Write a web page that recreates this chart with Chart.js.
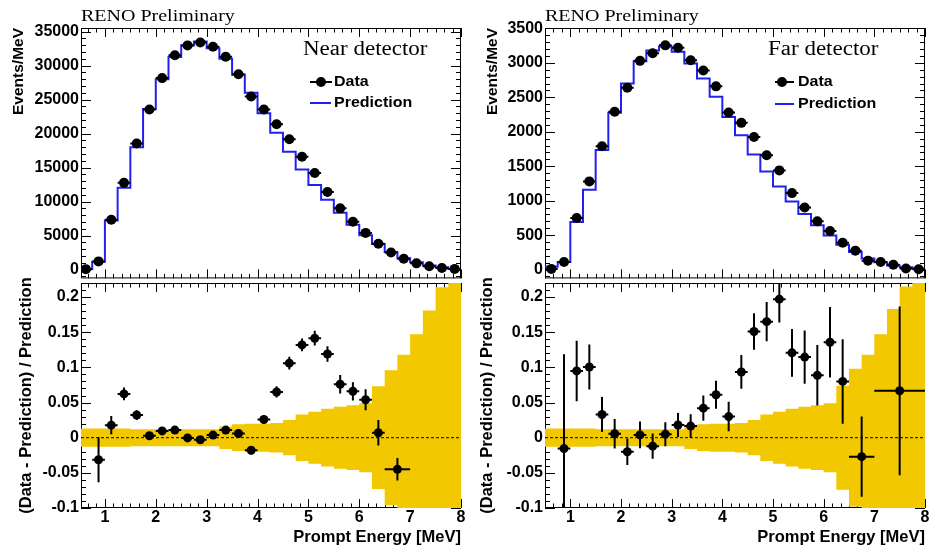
<!DOCTYPE html>
<html lang="en">
<head>
<meta charset="UTF-8">
<title>RENO prompt energy spectra</title>
<script src="https://cdn.jsdelivr.net/npm/chart.js"></script>
<style>
  body { margin: 0; background: #fff; }
  #wrap { position: relative; width: 931px; height: 548px; overflow: hidden; }
  canvas { position: absolute; }
  .txt { position: absolute; white-space: nowrap; color: #000; transform: scaleY(0.88); transform-origin: left center; }
  .serif { font-family: "Liberation Serif", "Times New Roman", serif; }
  .sans { font-family: "Liberation Sans", Arial, Helvetica, sans-serif; font-weight: bold; font-size: 16px; line-height: 16px; }
  .mk { position: absolute; }
</style>
</head>
<body>
<div id="wrap">
  <canvas id="nearTop" width="470" height="290" style="left:0;top:0"></canvas>
  <canvas id="nearBot" width="470" height="278" style="left:0;top:270px"></canvas>
  <canvas id="farTop" width="466" height="290" style="left:465px;top:0"></canvas>
  <canvas id="farBot" width="466" height="278" style="left:465px;top:270px"></canvas>

  <div class="txt serif" style="left:81px;top:5px;font-size:20px;line-height:20px">RENO Preliminary</div>
  <div class="txt serif" style="left:545px;top:5px;font-size:20px;line-height:20px">RENO Preliminary</div>
  <div class="txt serif" style="left:303px;top:37px;font-size:23px;line-height:23px">Near detector</div>
  <div class="txt serif" style="left:768px;top:37px;font-size:23px;line-height:23px">Far detector</div>

  <!-- legends -->
  <div class="mk" style="left:310px;top:81px;width:22px;height:2px;background:#000"></div>
  <div class="mk" style="left:316px;top:77px;width:10px;height:10px;border-radius:50%;background:#000"></div>
  <div class="txt sans" style="left:334px;top:74px">Data</div>
  <div class="mk" style="left:310px;top:102px;width:21px;height:2px;background:#2020f0"></div>
  <div class="txt sans" style="left:334px;top:95px">Prediction</div>

  <div class="mk" style="left:775px;top:81px;width:19px;height:2px;background:#000"></div>
  <div class="mk" style="left:777px;top:77px;width:10px;height:10px;border-radius:50%;background:#000"></div>
  <div class="txt sans" style="left:798px;top:74px">Data</div>
  <div class="mk" style="left:775px;top:103px;width:19px;height:2px;background:#2020f0"></div>
  <div class="txt sans" style="left:798px;top:96px">Prediction</div>
</div>

<script>
// bin centres of the prompt energy spectrum [MeV], 0.25 MeV bins
const energy = [0.625, 0.875, 1.125, 1.375, 1.625, 1.875, 2.125, 2.375, 2.625, 2.875,
                3.125, 3.375, 3.625, 3.875, 4.125, 4.375, 4.625, 4.875, 5.125, 5.375,
                5.625, 5.875, 6.125, 6.375, 6.625, 6.875, 7.125, 7.375, 7.625, 7.875];
const binHalf = 0.125;

// Events/MeV
const nearData = [60, 1200, 7315, 12750, 18530, 23530, 28150, 31520, 32960, 33400,
                  32770, 31280, 28730, 25460, 23530, 21370, 19150, 16600, 14200, 11400,
                  9000, 7030, 5390, 3800, 2500, 1590, 910, 480, 240, 100];
const nearPred = [100, 1150, 7220, 12030, 18000, 23600, 28000, 31250, 33000, 33550,
                  32550, 30990, 28650, 26000, 23000, 20100, 17320, 14720, 12450, 10250,
                  8370, 6590, 5050, 3740, 2600, 1680, 1060, 580, 340, 100];
const farData = [10, 110, 750, 1280, 1790, 2290, 2640, 3030, 3140, 3255,
                 3220, 3040, 2890, 2660, 2280, 2130, 1925, 1660, 1440, 1110,
                 900, 700, 560, 390, 275, 130, 110, 70, 15, 5];
const farPred = [40, 110, 690, 1160, 1735, 2277, 2700, 3025, 3180, 3240,
                 3163, 2990, 2773, 2510, 2214, 1950, 1672, 1425, 1205, 990,
                 807, 643, 493, 361, 255, 160, 105, 60, 35, 20];

// systematic uncertainty band (fractional, +/-)
const nearBand = [0.013, 0.013, 0.013, 0.013, 0.012, 0.012, 0.012, 0.012, 0.012, 0.012,
                  0.012, 0.016, 0.019, 0.020, 0.020, 0.021, 0.025, 0.033, 0.037, 0.041,
                  0.044, 0.046, 0.049, 0.073, 0.096, 0.118, 0.147, 0.181, 0.214, 0.250];
const farBand = [0.013, 0.013, 0.013, 0.013, 0.012, 0.012, 0.012, 0.012, 0.012, 0.012,
                 0.012, 0.016, 0.019, 0.020, 0.020, 0.021, 0.025, 0.033, 0.037, 0.041,
                 0.044, 0.046, 0.049, 0.074, 0.098, 0.118, 0.147, 0.183, 0.215, 0.250];

// (Data - Prediction) / Prediction
const nearRatioE = [0.875, 1.125, 1.375, 1.625, 1.875, 2.125, 2.375, 2.625, 2.875, 3.125,
                    3.375, 3.625, 3.875, 4.125, 4.375, 4.625, 4.875, 5.125, 5.375, 5.625,
                    5.875, 6.125, 6.375, 6.75];
const nearRatioHalf = [0.125, 0.125, 0.125, 0.125, 0.125, 0.125, 0.125, 0.125, 0.125, 0.125,
                       0.125, 0.125, 0.125, 0.125, 0.125, 0.125, 0.125, 0.125, 0.125, 0.125,
                       0.125, 0.125, 0.125, 0.25];
const nearRatio = [-0.0314, 0.0178, 0.0623, 0.0322, 0.0028, 0.0096, 0.0108, -0.0003, -0.0029, 0.0037,
                   0.0108, 0.0060, -0.0179, 0.0259, 0.0650, 0.1060, 0.1320, 0.1415, 0.1190, 0.0760,
                   0.0660, 0.0540, 0.0070, -0.0450];
const nearRatioErr = [0.032, 0.013, 0.009, 0.007, 0.005, 0.005, 0.005, 0.005, 0.005, 0.005,
                      0.005, 0.006, 0.006, 0.006, 0.008, 0.009, 0.009, 0.0105, 0.011, 0.013,
                      0.013, 0.015, 0.018, 0.016];

const farRatioE = [0.875, 1.125, 1.375, 1.625, 1.875, 2.125, 2.375, 2.625, 2.875, 3.125,
                   3.375, 3.625, 3.875, 4.125, 4.375, 4.625, 4.875, 5.125, 5.375, 5.625,
                   5.875, 6.125, 6.375, 6.75, 7.5];
const farRatioHalf = [0.125, 0.125, 0.125, 0.125, 0.125, 0.125, 0.125, 0.125, 0.125, 0.125,
                      0.125, 0.125, 0.125, 0.125, 0.125, 0.125, 0.125, 0.125, 0.125, 0.125,
                      0.125, 0.125, 0.125, 0.25, 0.5];
const farRatio = [-0.0155, 0.095, 0.1005, 0.033, 0.0056, -0.020, 0.004, -0.012, 0.005, 0.018,
                  0.0165, 0.042, 0.061, 0.030, 0.0935, 0.151, 0.165, 0.197, 0.1207, 0.1146,
                  0.0887, 0.1357, 0.080, -0.027, 0.0667];
const farRatioErr = [0.134, 0.043, 0.032, 0.025, 0.021, 0.019, 0.019, 0.018, 0.017, 0.017,
                     0.017, 0.018, 0.020, 0.021, 0.024, 0.026, 0.028, 0.033, 0.034, 0.038,
                     0.043, 0.050, 0.060, 0.057, 0.120];

const BLUE = 'rgb(32,32,240)';
const YELLOW = 'rgb(242,200,0)';
const FAMILY = '"Liberation Sans", Arial, Helvetica, sans-serif';
const bold = size => ({family: FAMILY, weight: 'bold', size: size});

// histogram outline: one point per lower bin edge plus the last upper edge
function stepPoints(vals) {
  const pts = energy.map((e, i) => ({x: e - binHalf, y: vals[i]}));
  pts.push({x: energy[energy.length - 1] + binHalf, y: vals[vals.length - 1]});
  return pts;
}

// plain multiples of the step inside [min, max]
function evenTicks(step) {
  return s => {
    const t = [];
    for (let k = Math.ceil(s.min / step - 1e-9); k * step <= s.max + 1e-9; k++) {
      t.push({value: +(k * step).toFixed(6)});
    }
    s.ticks = t;
  };
}

// ROOT-like frame with inward ticks on all four sides
const rootFrame = {
  id: 'rootFrame',
  beforeDatasetsDraw(chart, args, o) {
    const {ctx, chartArea: a, scales: {x, y}} = chart;
    ctx.save();
    ctx.strokeStyle = '#000';
    ctx.lineWidth = 1;
    ctx.strokeRect(a.left + 0.5, a.top + 0.5, a.width - 1, a.height - 1);
    ctx.beginPath();
    for (let k = Math.ceil(x.min * o.xSub - 1e-9); k <= Math.floor(x.max * o.xSub + 1e-9); k++) {
      const len = k % o.xSub === 0 ? 9 : 4.5;
      const px = Math.round(x.getPixelForValue(k / o.xSub)) + 0.5;
      ctx.moveTo(px, a.bottom); ctx.lineTo(px, a.bottom - len);
      ctx.moveTo(px, a.top); ctx.lineTo(px, a.top + len);
    }
    const st = o.yStep / o.ySub;
    for (let k = Math.ceil(y.min / st - 1e-9); k * st <= y.max + 1e-9; k++) {
      const len = k % o.ySub === 0 ? 10 : 5;
      const py = Math.round(y.getPixelForValue(k * st)) + 0.5;
      ctx.moveTo(a.left, py); ctx.lineTo(a.left + len, py);
      ctx.moveTo(a.right, py); ctx.lineTo(a.right - len, py);
    }
    ctx.stroke();
    ctx.restore();
  }
};

// error bars from ds.errX / ds.errY
const errorBars = {
  id: 'errorBars',
  afterDatasetsDraw(chart) {
    const {ctx, chartArea: a, scales: {x, y}} = chart;
    ctx.save();
    ctx.beginPath();
    ctx.rect(a.left, a.top, a.width, a.height);
    ctx.clip();
    ctx.strokeStyle = '#000';
    ctx.lineWidth = 2;
    chart.data.datasets.forEach(ds => {
      if (!ds.errX) return;
      ds.data.forEach((p, i) => {
        const px = x.getPixelForValue(p.x);
        const py = y.getPixelForValue(p.y);
        ctx.beginPath();
        ctx.moveTo(x.getPixelForValue(p.x - ds.errX[i]), py);
        ctx.lineTo(x.getPixelForValue(p.x + ds.errX[i]), py);
        if (ds.errY) {
          ctx.moveTo(px, y.getPixelForValue(p.y - ds.errY[i]));
          ctx.lineTo(px, y.getPixelForValue(p.y + ds.errY[i]));
        }
        ctx.stroke();
      });
    });
    ctx.restore();
  }
};

function yAxis(min, max, step, title, width, titlePad, fmt, align, titleSize) {
  return {
    type: 'linear', min: min, max: max,
    afterFit: s => { s.width = width; },
    afterBuildTicks: evenTicks(step),
    grid: {display: false, drawTicks: false},
    border: {display: false},
    ticks: {padding: 2, color: '#000', font: bold(16), callback: fmt},
    title: {display: true, text: title, align: align, color: '#000', font: bold(titleSize), padding: {top: titlePad, bottom: 0}}
  };
}

function topChart(id, xMin, dataVals, predVals, yMin, yMax, yStep, axisW, titlePad, pad) {
  return new Chart(document.getElementById(id), {
    type: 'scatter',
    data: {
      datasets: [
        {data: energy.map((e, i) => ({x: e, y: dataVals[i]})), errX: energy.map(() => binHalf),
         pointRadius: 5, pointBackgroundColor: '#000', pointBorderWidth: 0, order: 0},
        {type: 'line', data: stepPoints(predVals), stepped: 'before', borderColor: BLUE, borderWidth: 2,
         pointRadius: 0, fill: false, order: 1}
      ]
    },
    options: {
      responsive: false, animation: false, events: [],
      layout: {padding: pad},
      plugins: {legend: {display: false}, tooltip: {enabled: false},
                rootFrame: {xSub: 6, yStep: yStep, ySub: 5}},
      scales: {
        x: {type: 'linear', min: xMin, max: 8, display: false},
        y: yAxis(yMin, yMax, yStep, 'Events/MeV', axisW, titlePad, v => String(v), 'end', 15.5)
      }
    },
    plugins: [rootFrame, errorBars]
  });
}

function ratioChart(id, xMin, band, rE, rHalf, rVal, rErr, axisW, titlePad, pad) {
  return new Chart(document.getElementById(id), {
    type: 'scatter',
    data: {
      datasets: [
        {data: rE.map((e, i) => ({x: e, y: rVal[i]})), errX: rHalf, errY: rErr,
         pointRadius: 4.5, pointBackgroundColor: '#000', pointBorderWidth: 0, order: 0},
        {type: 'line', data: [{x: xMin, y: 0}, {x: 8, y: 0}], borderColor: '#000', borderWidth: 1,
         borderDash: [3, 2], pointRadius: 0, fill: false, order: 1},
        {type: 'line', data: stepPoints(band), stepped: 'before', borderWidth: 0, pointRadius: 0,
         fill: 'origin', backgroundColor: YELLOW, order: 2},
        {type: 'line', data: stepPoints(band.map(v => -v)), stepped: 'before', borderWidth: 0, pointRadius: 0,
         fill: 'origin', backgroundColor: YELLOW, order: 3}
      ]
    },
    options: {
      responsive: false, animation: false, events: [],
      layout: {padding: pad},
      plugins: {legend: {display: false}, tooltip: {enabled: false},
                rootFrame: {xSub: 6, yStep: 0.05, ySub: 5}},
      scales: {
        x: {
          type: 'linear', min: xMin, max: 8,
          afterFit: s => { s.height = 40; },
          afterBuildTicks: evenTicks(1),
          grid: {display: false, drawTicks: false},
          border: {display: false},
          ticks: {padding: 0, maxRotation: 0, autoSkip: false, color: '#000', font: bold(16)},
          title: {display: true, text: 'Prompt Energy [MeV]', align: 'end', color: '#000',
                  font: bold(16.5), padding: {top: 0, bottom: 1}}
        },
        y: yAxis(-0.1, 0.22, 0.05, '(Data - Prediction) / Prediction', axisW, titlePad,
                 v => String(+v.toFixed(3)), 'center', 16.5)
      }
    },
    plugins: [rootFrame, errorBars]
  });
}

topChart('nearTop', 0.53, nearData, nearPred, -1300, 35520, 5000, 81, 9, {top: 28, bottom: 7, left: 0, right: 9});
topChart('farTop', 0.5, farData, farPred, -128, 3507, 500, 80, 18, {top: 28, bottom: 7, left: 0, right: 6});
ratioChart('nearBot', 0.53, nearBand, nearRatioE, nearRatioHalf, nearRatio, nearRatioErr, 81, 17,
           {top: 13, bottom: 0, left: 0, right: 9});
ratioChart('farBot', 0.5, farBand, farRatioE, farRatioHalf, farRatio, farRatioErr, 80, 13,
           {top: 13, bottom: 0, left: 0, right: 6});
</script>
</body>
</html>
